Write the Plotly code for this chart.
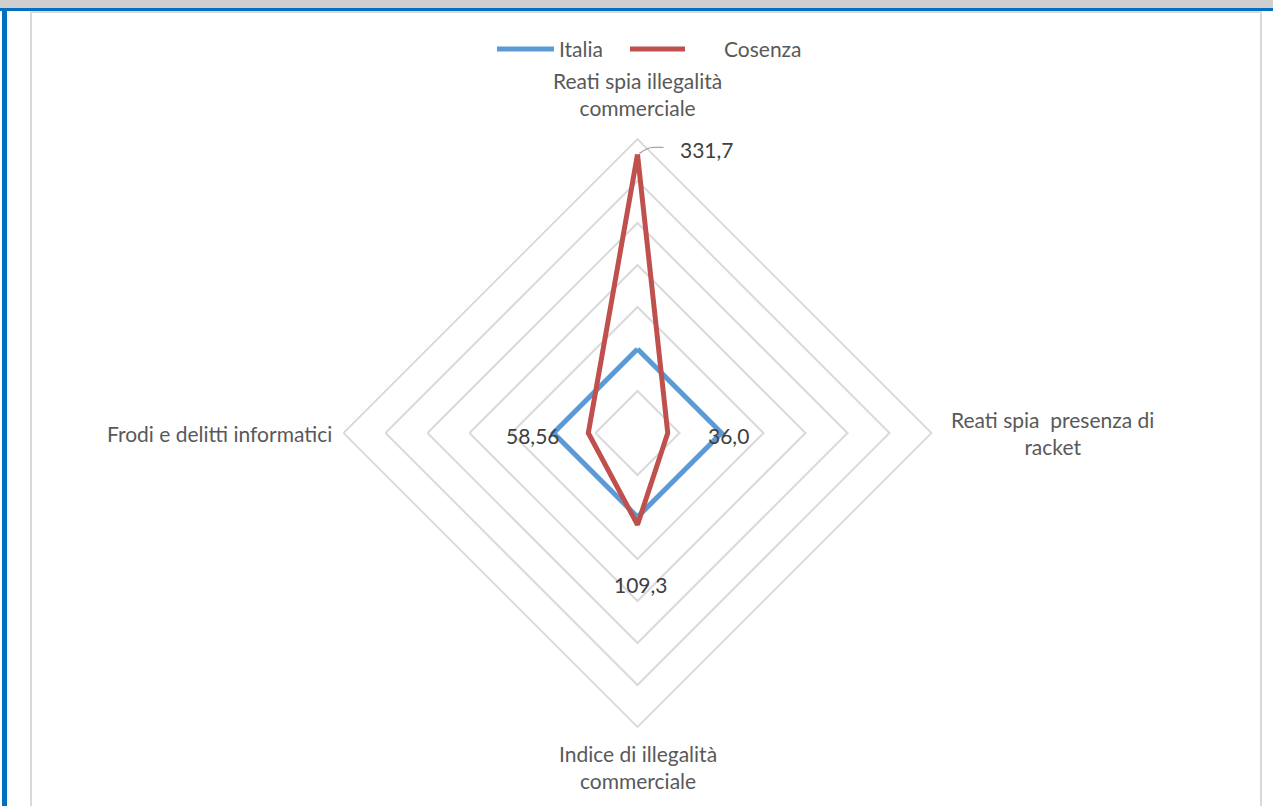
import math
import plotly.graph_objects as go

# Indicator axes, clockwise from the top
categories = [
    "Reati spia illegalità<br>commerciale",
    "Reati spia  presenza di<br>racket",
    "Indice di illegalità<br>commerciale",
    "Frodi e delitti informatici",
]
italia = [100, 100, 100, 100]
cosenza = [331.7, 36.0, 109.3, 58.56]
series_names = ["Italia", "Cosenza"]

W, H = 1273, 806
CX, CY, R = 637.5, 433.0, 294.0   # chart centre and outer radius in pixels
RMAX = 350
BLUE, RED = "#5b9bd5", "#c0504d"
GRID = "#d9d9d9"
FONT = "Lato"


def px(x):
    return x / W


def py(y):
    return 1 - y / H


def closed(v):
    return list(v) + [v[0]]


theta = closed(categories)

fig = go.Figure()
fig.add_trace(go.Scatterpolar(r=closed(italia), theta=theta, mode="lines",
                              line=dict(color=BLUE, width=5), name=series_names[0],
                              hoverinfo="skip"))
fig.add_trace(go.Scatterpolar(r=closed(cosenza), theta=theta, mode="lines",
                              line=dict(color=RED, width=5), name=series_names[1],
                              hoverinfo="skip"))

fig.update_layout(
    width=W, height=H,
    margin=dict(l=0, r=0, t=0, b=0),
    paper_bgcolor="white",
    showlegend=False,
    polar=dict(
        domain=dict(x=[px(CX - R), px(CX + R)], y=[py(CY + R), py(CY - R)]),
        bgcolor="white",
        gridshape="linear",
        radialaxis=dict(range=[0, RMAX], dtick=50, showticklabels=False, ticks="",
                        showline=False, gridcolor=GRID, gridwidth=1.8),
        angularaxis=dict(rotation=90, direction="clockwise", showgrid=False,
                         showticklabels=False, ticks="", showline=True,
                         linecolor=GRID, linewidth=1.8),
    ),
)

# Category labels around the outer ring
cat_pos = [
    dict(x=CX, y=CY - R - 45, xanchor="center", align="center"),
    dict(x=CX + R + 121, y=CY, xanchor="center", align="center"),
    dict(x=CX, y=CY + R + 40, xanchor="center", align="center"),
    dict(x=CX - R - 10, y=CY, xanchor="right", align="right"),
]
for text, p in zip(categories, cat_pos):
    fig.add_annotation(xref="paper", yref="paper", x=px(p["x"]), y=py(p["y"]),
                       text=text, showarrow=False, xanchor=p["xanchor"], yanchor="middle",
                       align=p["align"], font=dict(family=FONT, size=21, color="#595959"))

# Value labels for Cosenza, placed relative to each vertex
label_offsets = [(69, -5), (61, 2), (3, 60), (-55, 2)]
for i, (v, off) in enumerate(zip(cosenza, label_offsets)):
    ang = math.pi / 2 * i
    vx = CX + v / RMAX * R * math.sin(ang)
    vy = CY - v / RMAX * R * math.cos(ang)
    fig.add_annotation(xref="paper", yref="paper", x=px(vx + off[0]), y=py(vy + off[1]),
                       text=str(v).replace(".", ","), showarrow=False,
                       xanchor="center", yanchor="middle",
                       font=dict(family=FONT, size=21, color="#404040"))
    if i == 0:
        fig.add_shape(type="path", xref="paper", yref="paper",
                      path=f"M {px(vx + 2)} {py(vy - 1)} Q {px(vx + 10)} {py(vy - 7)} {px(vx + 16)} {py(vy - 7)} L {px(vx + 26)} {py(vy - 7)}",
                      line=dict(color="#a6a6a6", width=1.3))

# Legend drawn at the top
legend_items = [(497, 554, 557, BLUE), (630, 685, 722, RED)]
for name, (x0, x1, tx, col) in zip(series_names, legend_items):
    fig.add_shape(type="line", xref="paper", yref="paper", x0=px(x0), x1=px(x1),
                  y0=py(49), y1=py(49), line=dict(color=col, width=5))
    fig.add_annotation(xref="paper", yref="paper", x=px(tx), y=py(49), text=name,
                       showarrow=False, xanchor="left", yanchor="middle",
                       font=dict(family=FONT, size=21, color="#595959"))

# Page frame: header band, blue rules and chart border
fig.add_shape(type="rect", xref="paper", yref="paper", x0=0, x1=1, y0=py(8), y1=1,
              fillcolor="#d0cece", line_width=0, layer="below")
fig.add_shape(type="rect", xref="paper", yref="paper", x0=0, x1=1, y0=py(11), y1=py(8),
              fillcolor="#0070c0", line_width=0)
fig.add_shape(type="rect", xref="paper", yref="paper", x0=px(2), x1=px(7), y0=0, y1=py(8),
              fillcolor="#0070c0", line_width=0)
fig.add_shape(type="rect", xref="paper", yref="paper", x0=px(31), x1=px(1261), y0=py(812), y1=py(12),
              fillcolor="rgba(0,0,0,0)", line=dict(color=GRID, width=2), layer="below")

fig.write_html("out.html")
